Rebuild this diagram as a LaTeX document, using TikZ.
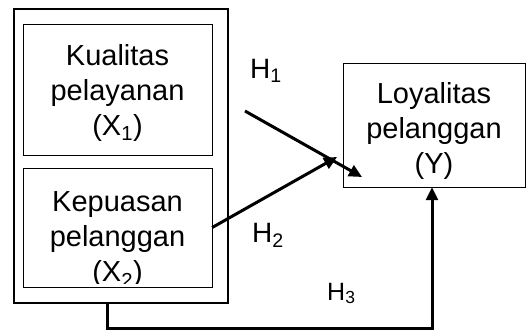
\documentclass[tikz,border=0pt]{standalone}
\usepackage{fontspec}
\setmainfont{Liberation Sans}
\usetikzlibrary{arrows.meta}

\begin{document}
\begin{tikzpicture}[
                x=1pt,y=-1pt,
                varbox/.style={draw,thin,rectangle,inner sep=0pt},
                groupbox/.style={draw,line width=2pt,rectangle,inner sep=0pt},
                vartext/.style={align=center,inner sep=0pt,font=\fontsize{29}{35}\selectfont},
                hyplabel/.style={anchor=base west,inner sep=0pt,font=\fontsize{28}{34}\selectfont},
                hyp/.style={line width=3pt,-{Triangle[length=13pt,width=12pt]}}
            ]
                \useasboundingbox (0,0) rectangle (526,330);
                % Boxes: outer group, two variables X, one variable Y
                \node[groupbox,minimum width=214pt,minimum height=294pt] (outer) at (121,156) {};
                \node[varbox,minimum width=189pt,minimum height=131pt] (x1) at (117.5,89.5) {};
                \node[varbox,minimum width=189pt,minimum height=119pt] (x2) at (117.5,227.5) {};
                \node[varbox,minimum width=182pt,minimum height=124pt] (y) at (434,125) {};
                % Texts inside the boxes
                \node[vartext] (x1text) at (117.5,92.5) {Kualitas\\pelayanan\\(X\textsubscript{1})};
                \begin{scope}
                    \clip ([yshift=4pt]x2.south west) rectangle (x2.north east);
                    \node[vartext] (x2text) at (117.5,240) {Kepuasan\\pelanggan\\(X\textsubscript{2})};
                \end{scope}
                \node[vartext] (ytext) at (434,130.5) {Loyalitas\\pelanggan\\(Y)};
                % Hypothesis arrows
                \coordinate (h1s) at (245,111);
                \coordinate (h1e) at (362,177);
                \coordinate (h2e) at (337,157);
                \coordinate (b1) at (107,328);
                \coordinate (b2) at (432,328);
                \draw[hyp] (h1s)--(h1e);
                \draw[hyp] (x2.east)--(h2e);
                \draw[hyp] (b1 |- outer.south)--(b1)--(b2)--(b2 |- y.south);
                % Labels
                \node[hyplabel] (h1) at (250,78) {H\textsubscript{1}};
                \node[hyplabel] (h2) at (252,242) {H\textsubscript{2}};
                \node[hyplabel,font=\fontsize{25}{30}\selectfont] (h3) at (327,300) {H\textsubscript{3}};
            \end{tikzpicture}
\end{document}
